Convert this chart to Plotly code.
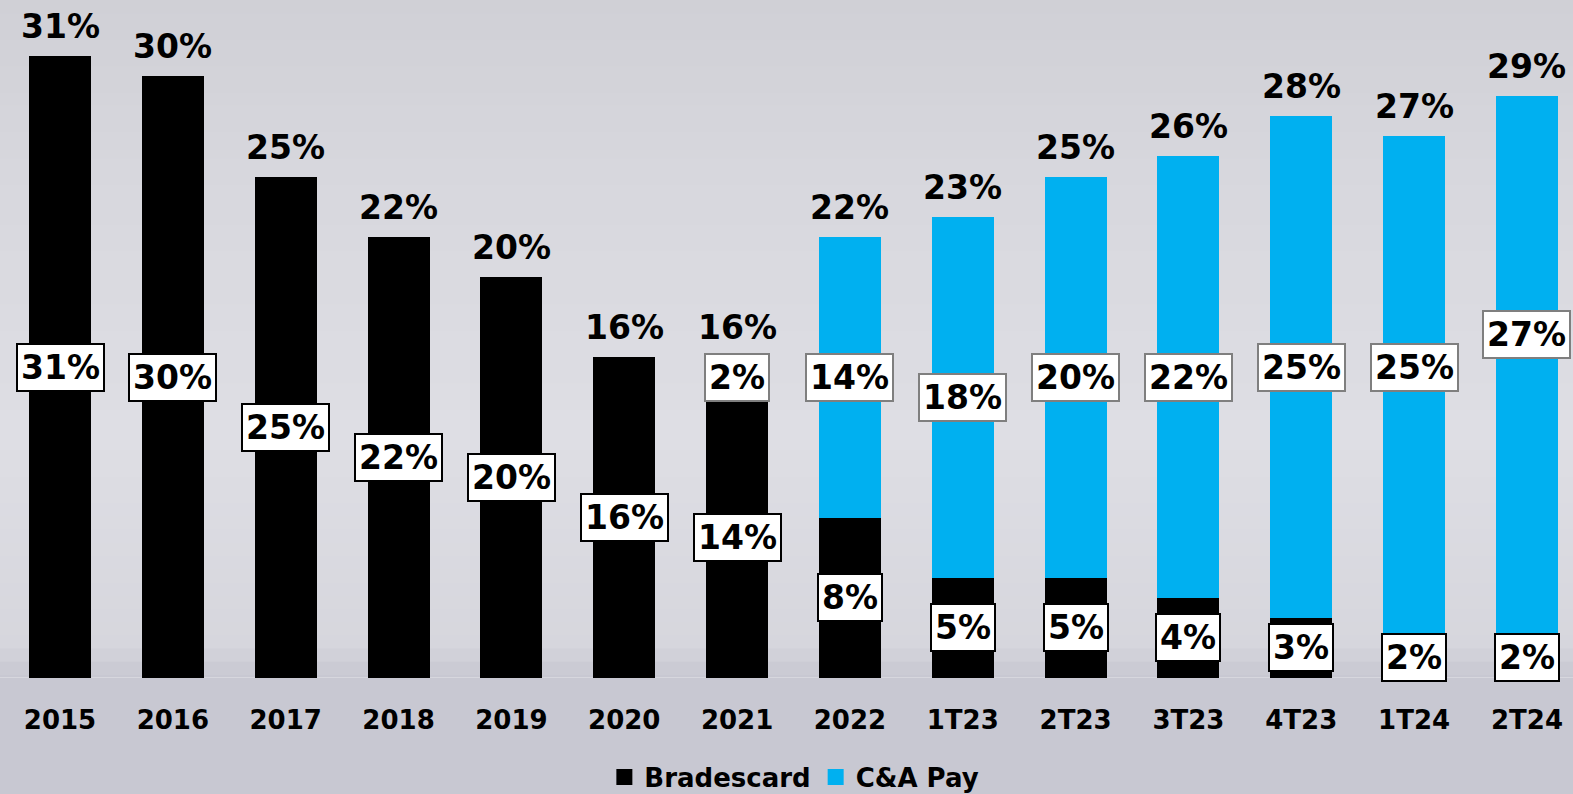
import plotly.graph_objects as go

categories = ["2015", "2016", "2017", "2018", "2019", "2020", "2021", "2022",
              "1T23", "2T23", "3T23", "4T23", "1T24", "2T24"]
bradescard = [31, 30, 25, 22, 20, 16, 14, 8, 5, 5, 4, 3, 2, 2]
ca_pay = [0, 0, 0, 0, 0, 0, 2, 14, 18, 20, 22, 25, 25, 27]
totals = [31, 30, 25, 22, 20, 16, 16, 22, 23, 25, 26, 28, 27, 29]

# label nudges (pixels) for a couple of C&A Pay labels moved in the original
ca_label_shift = [0] * 12 + [20, 33]

FONT = "DejaVu Sans"
BLACK = "#000000"
BLUE = "#00B0F0"
LBL = 33

fig = go.Figure()
fig.add_trace(go.Bar(x=categories, y=bradescard, name="Bradescard", showlegend=False,
                     marker=dict(color=BLACK, line=dict(width=0)), width=0.55))
fig.add_trace(go.Bar(x=categories, y=ca_pay, name="C&A Pay", showlegend=False,
                     marker=dict(color=BLUE, line=dict(width=0)), width=0.55))
# legend entries with larger square symbols
for name, col in [("Bradescard", BLACK), ("C&A Pay", BLUE)]:
    fig.add_trace(go.Scatter(x=[None], y=[None], mode="markers", name=name,
                             marker=dict(symbol="square", size=16, color=col)))

annotations = []
for i, c in enumerate(categories):
    # total label
    annotations.append(dict(x=i, y=totals[i], text=f"{totals[i]}%", showarrow=False,
                            yanchor="bottom", yshift=8,
                            font=dict(family=FONT, size=LBL, color="#000", weight=700)))
    # bradescard boxed label
    annotations.append(dict(x=i, y=bradescard[i] / 2, text=f"{bradescard[i]}%", showarrow=False,
                            yanchor="middle", bgcolor="#ffffff", bordercolor="#000000",
                            borderwidth=2, borderpad=3,
                            font=dict(family=FONT, size=LBL, color="#000", weight=700)))
    if ca_pay[i] > 0:
        annotations.append(dict(x=i, y=bradescard[i] + ca_pay[i] / 2, text=f"{ca_pay[i]}%",
                                showarrow=False, yanchor="middle", yshift=ca_label_shift[i],
                                bgcolor="#ffffff", bordercolor="#7f7f7f",
                                borderwidth=2, borderpad=3,
                                font=dict(family=FONT, size=LBL, color="#000", weight=700)))

# background gradient strips (paper coordinates)
stops = [(0.0, (200, 200, 210)), (0.15, (200, 200, 210)), (0.19, (214, 214, 221)),
         (0.45, (222, 222, 228)), (0.75, (216, 216, 222)), (1.0, (208, 208, 214))]
def col_at(t):
    for (a, ca), (b, cb) in zip(stops, stops[1:]):
        if a <= t <= b:
            f = (t - a) / (b - a) if b > a else 0
            return tuple(int(round(ca[k] + (cb[k] - ca[k]) * f)) for k in range(3))
    return stops[-1][1]

shapes = []
N = 60
y0p, y1p = -116 / 678, 1.0
for k in range(N):
    ya = y0p + (y1p - y0p) * k / N
    yb = y0p + (y1p - y0p) * (k + 1) / N
    t = (ya + yb) / 2
    tt = (t - y0p) / (y1p - y0p)
    r, g, b = col_at(tt)
    shapes.append(dict(type="rect", xref="paper", yref="paper", x0=0, x1=1, y0=ya, y1=yb + 0.002,
                       fillcolor=f"rgb({r},{g},{b})", line=dict(width=0), layer="below"))
shapes.append(dict(type="line", xref="paper", yref="y", x0=0, x1=1, y0=0, y1=0,
                   line=dict(color="#e6e6ea", width=1), layer="below"))

fig.update_layout(
    barmode="stack",
    width=1573, height=794,
    margin=dict(l=0, r=0, t=0, b=116, autoexpand=False),
    paper_bgcolor="#d6d6dc", plot_bgcolor="rgba(0,0,0,0)",
    showlegend=True,
    legend=dict(orientation="h", x=0.505, xanchor="center", y=-0.146, yanchor="middle",
                traceorder="normal", itemsizing="trace",
                font=dict(family=FONT, size=26, color="#000", weight=700),
                bgcolor="rgba(0,0,0,0)", itemwidth=30),
    xaxis=dict(type="category", range=[-0.532, 13.408], showgrid=False, zeroline=False,
               showline=False, automargin=False,
               tickfont=dict(family=FONT, size=26, color="#000", weight=700),
               ticklabelstandoff=24, fixedrange=True),
    yaxis=dict(range=[0, 678 / 20.06], visible=False, fixedrange=True, automargin=False),
    annotations=annotations,
    shapes=shapes,
    bargap=0.45,
)

fig.write_html("out.html", config={"displayModeBar": False},
               post_script="document.body.style.margin='0';document.body.style.overflow='hidden';")
